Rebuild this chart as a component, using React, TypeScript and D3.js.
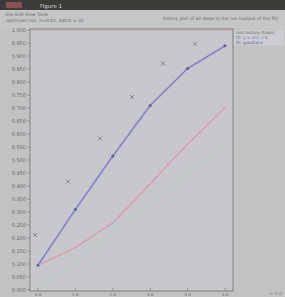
import React from 'react';
import * as d3 from 'd3';

// data
const steps = [0, 1, 2, 3, 4, 5];
const blueSeries = [0.095, 0.31, 0.515, 0.71, 0.852, 0.939];
const redSeries = [0.095, 0.163, 0.258, 0.409, 0.561, 0.701];
const greenSeries = [0.011, 0.106, 0.22, 0.333, 0.447, 0.56];
const scatterX = [-0.08, 0.8, 1.66, 2.51, 3.34, 4.2];
const scatterY = [0.212, 0.417, 0.583, 0.742, 0.871, 0.947];
const yTicks = d3.range(0, 1.0001, 0.05);
const xTicks = [0, 1, 2, 3, 4, 5];
const legendLabels = ['loss history (train)', 'fit: y = a*x + b', 'fit: quadratic'];

const W = 285;
const H = 297;
const plot = { left: 30, right: 233, top: 29, bottom: 291 };

export default function App() {
  const x = d3.scaleLinear().domain([0, 5]).range([38, 225]);
  const y = d3.scaleLinear().domain([0, 1]).range([plot.bottom - 1, plot.top + 1]);

  const line = (vals: number[]) =>
    d3.line<number>().x((_, i) => x(steps[i])).y(d => y(d))(vals) || '';

  return (
    <svg width={W} height={H} style={{ position: 'absolute', left: 0, top: 0, fontFamily: 'DejaVu Sans' }}>
      <rect width={W} height={H} fill="#c2c2c2" />

      {/* window title bar */}
      <rect width={W} height={10} fill="#3b3b37" />
      <rect x={6} y={2} width={16} height={6} fill="#8a4f55" />
      <text x={40} y={7.5} fill="#d8d8d8" fontSize={5.5}>Figure 1</text>

      {/* toolbar */}
      <rect y={10} width={W} height={19} fill="#c6c6c6" />
      <text x={6} y={16} fill="#666" fontSize={4.5}>File  Edit  View  Tools</text>
      <text x={6} y={22} fill="#666" fontSize={4.5}>optimizer run: lr=0.01, batch = 32</text>
      <text x={278} y={20} fill="#666" fontSize={4.5} textAnchor="end">history plot of all steps in the run (output of the fit)</text>

      {/* plot frame */}
      <rect x={plot.left} y={plot.top} width={plot.right - plot.left} height={plot.bottom - plot.top}
        fill="#c8c8cc" stroke="#8a8a8a" strokeWidth={1.2} />
      <line x1={plot.left} x2={plot.right} y1={plot.top + 1} y2={plot.top + 1} stroke="#b08080" strokeWidth={0.4} />

      {/* y axis */}
      {yTicks.map(t => (
        <g key={t}>
          <line x1={plot.left - 3} x2={plot.left} y1={y(t)} y2={y(t)} stroke="#777" strokeWidth={0.6} />
          <text x={plot.left - 4} y={y(t) + 1.8} fontSize={5} fill="#6a6a6a" textAnchor="end">{t.toFixed(3)}</text>
        </g>
      ))}

      {/* x axis */}
      {xTicks.map(t => (
        <g key={t}>
          <line x1={x(t)} x2={x(t)} y1={plot.bottom} y2={plot.bottom - 3} stroke="#777" strokeWidth={0.6} />
          <text x={x(t)} y={plot.bottom + 4.6} fontSize={4.2} fill="#6a6a6a" textAnchor="middle">{t.toFixed(1)}</text>
        </g>
      ))}

      {/* series */}
      <path d={line(greenSeries)} fill="none" stroke="#b5d2c0" strokeWidth={2} opacity={0.6} />
      <path d={line(redSeries)} fill="none" stroke="#d6a2ad" strokeWidth={1.6} />
      <path d={line(blueSeries)} fill="none" stroke="#adadd8" strokeWidth={2.6} />
      <path d={line(blueSeries)} fill="none" stroke="#7373ab" strokeWidth={1} />
      {blueSeries.map((v, i) => (
        <circle key={i} cx={x(steps[i])} cy={y(v)} r={1.5} fill="#606090" />
      ))}
      {scatterY.map((v, i) => (
        <g key={i} stroke="#7a7a7a" strokeWidth={0.9}>
          <line x1={x(scatterX[i]) - 2} x2={x(scatterX[i]) + 2} y1={y(v) - 2} y2={y(v) + 2} />
          <line x1={x(scatterX[i]) - 2} x2={x(scatterX[i]) + 2} y1={y(v) + 2} y2={y(v) - 2} />
        </g>
      ))}

      {/* legend */}
      <rect x={plot.right + 1} y={plot.top + 1} width={W - plot.right - 2} height={15} fill="#cbcbd0" />
      {legendLabels.map((l, i) => (
        <text key={l} x={plot.right + 3} y={plot.top + 5 + i * 5} fontSize={4.2}
          fill={i === 0 ? '#666' : i === 1 ? '#6a7fb0' : '#5a6a98'}>{l}</text>
      ))}

      <text x={282} y={295} fontSize={4.5} fill="#777" textAnchor="end">x: 5.0</text>
    </svg>
  );
}
